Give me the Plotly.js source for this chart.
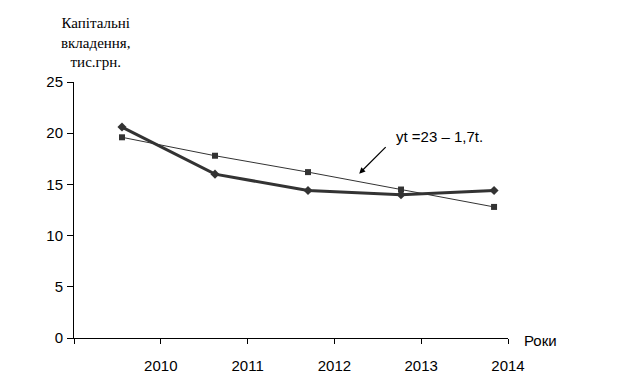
<!DOCTYPE html>
<html><head><meta charset="utf-8">
<script src="https://cdn.plot.ly/plotly-3.0.1.min.js"></script>
<style>body{margin:0;background:#fff}#c{width:624px;height:378px}</style>
</head><body><div id="c"></div>
<script>
var years = [2010, 2011, 2012, 2013, 2014];
var actual = [20.6, 16.0, 14.4, 14.0, 14.4];
var trend = [19.6, 17.8, 16.2, 14.5, 12.8];
var tickYears = [2009, 2010, 2011, 2012, 2013, 2014];
var tickLabels = ['', '2010', '2011', '2012', '2013', '2014'];
var yTicks = [0, 5, 10, 15, 20, 25];

var traces = [
  {x: years, y: trend, xaxis: 'x2', type: 'scatter', mode: 'lines+markers',
   line: {color: '#333', width: 1}, marker: {symbol: 'square', size: 6, color: '#333'}},
  {x: years, y: actual, xaxis: 'x2', type: 'scatter', mode: 'lines+markers',
   line: {color: '#333', width: 3}, marker: {symbol: 'diamond', size: 7, color: '#333'}},
  {x: [], y: [], xaxis: 'x', yaxis: 'y', type: 'scatter', mode: 'markers', hoverinfo: 'skip'}
];

var layout = {
  width: 624, height: 378,
  margin: {l: 74, r: 116, t: 82, b: 40},
  paper_bgcolor: '#fff', plot_bgcolor: '#fff',
  showlegend: false,
  font: {family: 'Liberation Sans, Arial, sans-serif', size: 15, color: '#000'},
  xaxis: {range: [2009, 2014], tickvals: tickYears, ticktext: tickLabels,
    showgrid: false, zeroline: false, showline: true, linecolor: '#000', linewidth: 1,
    ticks: 'outside', ticklen: 5, tickcolor: '#000', ticklabelstandoff: 9,
    tickfont: {size: 15}},
  xaxis2: {range: [2009.484, 2014.15], overlaying: 'x', visible: false},
  yaxis: {range: [0, 25], tickvals: yTicks, showgrid: false, zeroline: false,
    showline: true, linecolor: '#000', linewidth: 1, ticks: 'outside', ticklen: 6,
    tickcolor: '#000', ticklabelstandoff: 1, tickfont: {size: 15}},
  annotations: [
    {xref: 'paper', yref: 'paper', x: 0.05, y: 1, yshift: 40, xanchor: 'center', yanchor: 'middle',
     showarrow: false, align: 'center',
     text: 'Капітальні<br>вкладення,<br>тис.грн.',
     font: {family: 'Times New Roman, Tinos, DejaVu Serif', size: 15}},
    {xref: 'x', yref: 'y', x: 2014, xshift: 14, y: 0, yshift: -2, xanchor: 'left', yanchor: 'middle',
     showarrow: false, text: 'Роки', font: {size: 15}},
    {xref: 'x2', yref: 'y', x: 2012.55, y: 16.05, ax: 28, ay: -28, axref: 'pixel', ayref: 'pixel',
     showarrow: true, arrowhead: 2, arrowsize: 1, arrowwidth: 1.2, arrowcolor: '#000', text: ''},
    {xref: 'x2', yref: 'y', x: 2012.92, y: 19.65, xanchor: 'left', yanchor: 'middle',
     showarrow: false, text: 'yt =23 – 1,7t.', font: {size: 15}}
  ]
};
Plotly.newPlot('c', traces, layout, {staticPlot: true});
</script></body></html>
